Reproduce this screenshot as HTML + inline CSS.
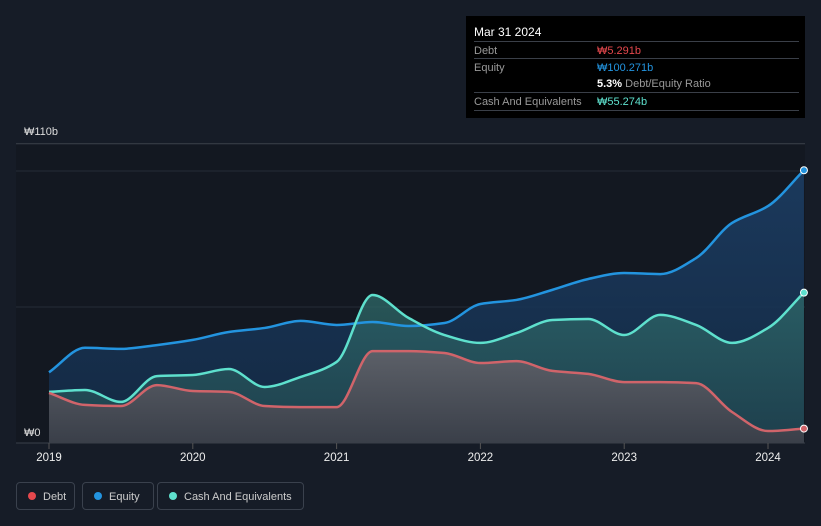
<!DOCTYPE html>
<html><head><meta charset="utf-8"><style>
body{margin:0;background:#161c27;font-family:"Liberation Sans","Noto Sans CJK KR",sans-serif;}
#wrap{position:relative;width:821px;height:526px;overflow:hidden;background:#161c27;}
.tt{position:absolute;left:466px;top:16px;width:339px;height:102px;background:#000;color:#ddd;font-size:11px;}
.row{position:absolute;left:8px;width:325px;border-top:1px solid #3a3f48;height:17px;}
.row span{position:absolute;top:3px;}
.leg{position:absolute;top:482px;height:28px;border:1px solid #3a414d;border-radius:4px;color:#ccc;font-size:11px;line-height:28px;box-sizing:border-box;padding-left:26px;}
.dot{position:absolute;left:11px;top:9px;width:8px;height:8px;border-radius:50%;}
</style></head><body>
<div id="wrap">
<svg id="chart" width="821" height="526" style="position:absolute;left:0;top:0">
<defs>
<linearGradient id="gE" x1="0" y1="0" x2="0" y2="1"><stop offset="0" stop-color="#1c3d63" stop-opacity="0.9"/><stop offset="1" stop-color="#132a45" stop-opacity="0.9"/></linearGradient>
<linearGradient id="gC" x1="0" y1="0" x2="0" y2="1"><stop offset="0" stop-color="#2f6b6a" stop-opacity="0.75"/><stop offset="1" stop-color="#214650" stop-opacity="0.75"/></linearGradient>
<linearGradient id="gD" x1="0" y1="0" x2="0" y2="1"><stop offset="0" stop-color="#5c6068"/><stop offset="1" stop-color="#3a3f49"/></linearGradient>
</defs>
<rect x="16" y="143" width="789" height="300" fill="#131821"/>
<g id="grid"></g><g id="areas"></g><g id="lines"></g><g id="axes"></g>
</svg>
<div class="tt">
<div style="position:absolute;left:8px;top:9px;color:#fff;font-size:12px">Mar 31 2024</div>
<div class="row" style="top:25px"><span style="color:#999">Debt</span><span style="left:123px;color:#e5484d">₩5.291b</span></div>
<div class="row" style="top:42px"><span style="color:#999">Equity</span><span style="left:123px;color:#2394df">₩100.271b</span></div>
<div style="position:absolute;left:131px;top:62px;color:#999"><b style="color:#fff">5.3%</b> Debt/Equity Ratio</div>
<div class="row" style="top:76px;border-bottom:1px solid #3a3f48"><span style="color:#999">Cash And Equivalents</span><span style="left:123px;color:#5ee0cd">₩55.274b</span></div>
</div>
<div class="leg" style="left:16px;width:59px"><div class="dot" style="background:#e5484d"></div>Debt</div>
<div class="leg" style="left:82px;width:72px"><div class="dot" style="background:#2394df"></div>Equity</div>
<div class="leg" style="left:157px;width:147px"><div class="dot" style="background:#5ee0cd"></div>Cash And Equivalents</div>
</div>
<script>
const dates=[2019,2019.25,2019.5,2019.75,2020,2020.25,2020.5,2020.75,2021,2021.25,2021.5,2021.75,2022,2022.25,2022.5,2022.75,2023,2023.25,2023.5,2023.75,2024,2024.25];
const debt=[18.4,14,13.6,21.3,19.1,18.8,13.6,13.2,13.2,33.8,33.8,33.1,29.4,30.1,26.5,25.4,22.4,22.4,22,11.4,4.4,5.291];
const equity=[26,35,34.6,36,37.9,40.8,42.3,44.9,43.4,44.5,43,44.1,51.1,52.6,56.3,60.3,62.5,62.1,68,80.9,87.1,100.271];
const cash=[18.8,19.5,15.1,24.6,25,27.2,20.6,24.3,29.8,54.4,46,39.7,36.8,40.4,45.2,45.6,39.7,47.1,43.4,36.8,42.3,55.274];
const xTicks=[2019,2020,2021,2022,2023,2024];
const yTicks=[0,50,100];
const yLabels=[[0,"₩0"],[110,"₩110b"]];
const X=d=>49+(d-2019)*143.8;
const Y=v=>443-v*2.72;
const NS="http://www.w3.org/2000/svg";
function mk(tag,attrs,parent){const e=document.createElementNS(NS,tag);for(const k in attrs)e.setAttribute(k,attrs[k]);parent.appendChild(e);return e;}
function path(vals){const p=dates.map((d,i)=>[X(d),Y(vals[i])]);const n=p.length;
const dx=[],sl=[];for(let i=0;i<n-1;i++){dx.push(p[i+1][0]-p[i][0]);sl.push((p[i+1][1]-p[i][1])/dx[i]);}
const m=[sl[0]];for(let i=1;i<n-1;i++){m.push(sl[i-1]*sl[i]<=0?0:2/(1/sl[i-1]+1/sl[i]));}m.push(sl[n-2]);
let s=`M${p[0][0]},${p[0][1]}`;
for(let i=0;i<n-1;i++){const h=dx[i]/3;s+=` C${p[i][0]+h},${p[i][1]+m[i]*h} ${p[i+1][0]-h},${p[i+1][1]-m[i+1]*h} ${p[i+1][0]},${p[i+1][1]}`;}return s;}
const gGrid=document.getElementById('grid'),gAreas=document.getElementById('areas'),gLines=document.getElementById('lines'),gAxes=document.getElementById('axes');
yTicks.forEach(v=>{const l=mk('line',{x1:16,x2:805,y1:Y(v),y2:Y(v),stroke:v==0?'#3a404a':'#262c36','stroke-width':1},gGrid);

});
const topLine=mk('line',{x1:16,x2:805,y1:Y(110),y2:Y(110),stroke:'#3c424c'},gGrid);


yLabels.forEach(([v,t])=>{const e=mk('text',{x:24,y:v==0?Y(v)-7:Y(v)-9,fill:'#ddd','font-size':11},gAxes);e.textContent=t;

});
xTicks.forEach(d=>{mk('line',{x1:X(d),x2:X(d),y1:443,y2:449,stroke:'#555'},gAxes);const e=mk('text',{x:X(d),y:461,fill:'#eee','font-size':11.5,'text-anchor':'middle'},gAxes);e.textContent=d;

});
const series=[[equity,'url(#gE)','#2394df','equity'],[cash,'url(#gC)','#5ee0cd','cash'],[debt,'url(#gD)','#d0646a','debt']];
series.forEach(([v,f,c,n])=>{const d=path(v);const a=mk('path',{d:d+` L${X(dates[dates.length-1])},443 L${X(dates[0])},443 Z`,fill:f},gAreas);


const l=mk('path',{d:d,fill:'none',stroke:c,'stroke-width':2.5},gLines);


const last=v.length-1;const p=mk('circle',{cx:X(dates[last]),cy:Y(v[last]),r:3.5,fill:c,stroke:'#fff','stroke-width':1},gLines);

});
</script>
</body></html>
